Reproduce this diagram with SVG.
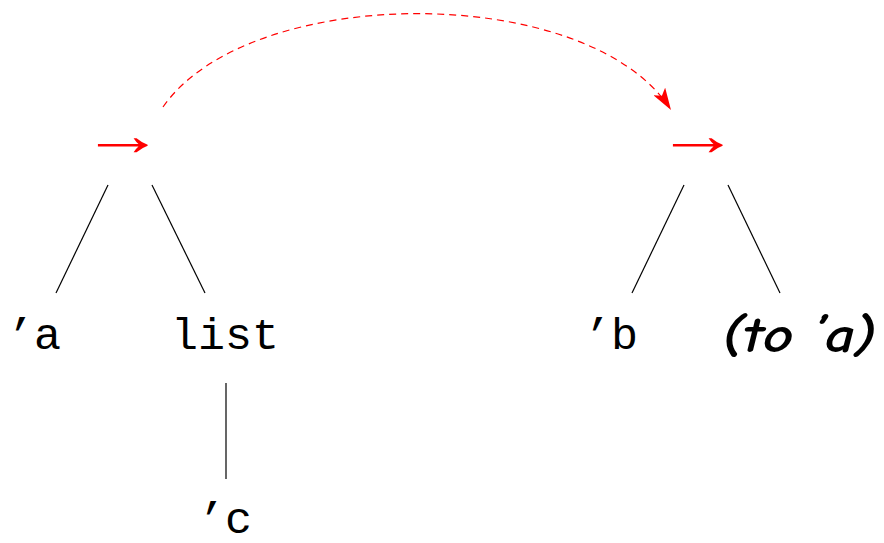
<svg xmlns="http://www.w3.org/2000/svg" width="884" height="543" viewBox="0 0 884 543">
<style>
.tt{font-family:"Liberation Mono","DejaVu Sans Mono",monospace;font-size:45px;fill:#000}
.ar{font-family:"Liberation Serif","DejaVu Serif",serif;font-size:60px;fill:#ff0000}
.ed{stroke:#000;stroke-width:1.2;fill:none}
.em{font-family:"Comic Neue","DejaVu Sans",sans-serif;font-style:italic;font-weight:bold;font-size:50px;fill:#000}
</style>
<defs>
<marker id="ah2" viewBox="0 0 22 14" refX="22" refY="7" markerWidth="22" markerHeight="14" orient="auto" markerUnits="userSpaceOnUse">
<path d="M0,0 L22,7 L0,14 L5,7 z" fill="#ff0000"/>
</marker>
</defs>
<g id="connectors">
<line class="ed" x1="108" y1="185" x2="56" y2="293"/>
<line class="ed" x1="152" y1="185" x2="205" y2="293"/>
<line class="ed" x1="226" y1="383" x2="226" y2="479"/>
<line class="ed" x1="684" y1="185" x2="632" y2="293"/>
<line class="ed" x1="728" y1="185" x2="780" y2="293"/>
<path d="M163,107 C250,-18 590,-18 671,110" fill="none" stroke="#ff0000" stroke-width="1.2" stroke-dasharray="7,5" marker-end="url(#ah2)"/>
</g>
<g id="arrow1"><text class="ar" x="81" y="155" textLength="84" lengthAdjust="spacingAndGlyphs">→</text></g>
<g id="arrow2"><text class="ar" x="656" y="155" textLength="84" lengthAdjust="spacingAndGlyphs">→</text></g>
<g id="qa"><text class="tt" x="7" y="349">’a</text></g>
<g id="list"><text class="tt" x="171" y="349">list</text></g>
<g id="qc"><text class="tt" x="198" y="533">’c</text></g>
<g id="qb"><text class="tt" x="584" y="349">’b</text></g>
<g id="toa"><text class="em" x="722" y="352" textLength="154" lengthAdjust="spacingAndGlyphs">(to ’a)</text></g>
</svg>
